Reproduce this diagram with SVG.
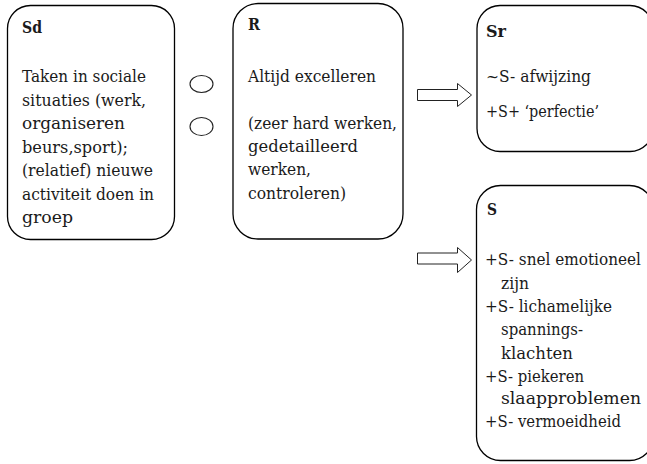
<svg xmlns="http://www.w3.org/2000/svg" width="647" height="464" viewBox="0 0 647 464">
  <style>
    .box { fill: #ffffff; stroke: #000000; stroke-width: 1.3; }
    .txt { font-family: "DejaVu Serif", "Liberation Serif", serif; font-size: 16px; fill: #1a1a1a; }
    .hd { font-weight: bold; }
    .arrow { fill: #ffffff; stroke: #222222; stroke-width: 1; }
    .ring { fill: #ffffff; stroke: #222222; stroke-width: 1.1; }
  </style>
  <rect width="647" height="464" fill="#ffffff"/>

  <!-- Stimulus (Sd) -->
  <g id="node-sd">
    <rect class="box" x="7.5" y="5.5" width="167" height="234" rx="23" ry="23"/>
    <text class="txt hd" x="22" y="33" textLength="20" lengthAdjust="spacingAndGlyphs">Sd</text>
    <text class="txt" x="22" y="82" textLength="124" lengthAdjust="spacingAndGlyphs">Taken in sociale</text>
    <text class="txt" x="22" y="105.5" textLength="124" lengthAdjust="spacingAndGlyphs">situaties (werk,</text>
    <text class="txt" x="22" y="129" textLength="103" lengthAdjust="spacingAndGlyphs">organiseren</text>
    <text class="txt" x="22" y="152.5" textLength="106" lengthAdjust="spacingAndGlyphs">beurs,sport);</text>
    <text class="txt" x="22" y="176" textLength="131" lengthAdjust="spacingAndGlyphs">(relatief) nieuwe</text>
    <text class="txt" x="22" y="199.5" textLength="132" lengthAdjust="spacingAndGlyphs">activiteit doen in</text>
    <text class="txt" x="22" y="223" textLength="51" lengthAdjust="spacingAndGlyphs">groep</text>
  </g>

  <!-- Organism placeholders -->
  <g id="node-o">
    <ellipse class="ring" cx="201.5" cy="84" rx="11.5" ry="8.5"/>
    <ellipse class="ring" cx="201.5" cy="126.5" rx="11.5" ry="9"/>
  </g>

  <!-- Response (R) -->
  <g id="node-r">
    <rect class="box" x="233" y="3.5" width="170" height="235.5" rx="25" ry="25"/>
    <text class="txt hd" x="248" y="30" textLength="12" lengthAdjust="spacingAndGlyphs">R</text>
    <text class="txt" x="248" y="82" textLength="128" lengthAdjust="spacingAndGlyphs">Altijd excelleren</text>
    <text class="txt" x="248" y="128.5" textLength="149" lengthAdjust="spacingAndGlyphs">(zeer hard werken,</text>
    <text class="txt" x="248" y="152" textLength="110" lengthAdjust="spacingAndGlyphs">gedetailleerd</text>
    <text class="txt" x="248" y="175" textLength="63" lengthAdjust="spacingAndGlyphs">werken,</text>
    <text class="txt" x="248" y="198.5" textLength="98" lengthAdjust="spacingAndGlyphs">controleren)</text>
  </g>

  <!-- Short-term consequences (Sr) -->
  <g id="node-sr">
    <rect class="box" x="477" y="5.5" width="176" height="146" rx="23" ry="23"/>
    <text class="txt hd" x="486" y="36.5" textLength="20" lengthAdjust="spacingAndGlyphs">Sr</text>
    <text class="txt" x="486" y="82" textLength="105" lengthAdjust="spacingAndGlyphs">~S-  afwijzing</text>
    <text class="txt" x="486" y="117" textLength="113" lengthAdjust="spacingAndGlyphs">+S+ ‘perfectie’</text>
  </g>

  <!-- Long-term consequences (S) -->
  <g id="node-s">
    <rect class="box" x="476.5" y="185.5" width="177" height="275" rx="24" ry="24"/>
    <text class="txt hd" x="487" y="215" textLength="10" lengthAdjust="spacingAndGlyphs">S</text>
    <text class="txt" x="485" y="265" textLength="156" lengthAdjust="spacingAndGlyphs">+S- snel emotioneel</text>
    <text class="txt" x="501" y="288.5" textLength="28" lengthAdjust="spacingAndGlyphs">zijn</text>
    <text class="txt" x="485" y="312" textLength="127" lengthAdjust="spacingAndGlyphs">+S- lichamelijke</text>
    <text class="txt" x="501" y="335" textLength="82" lengthAdjust="spacingAndGlyphs">spannings-</text>
    <text class="txt" x="501" y="358.5" textLength="72" lengthAdjust="spacingAndGlyphs">klachten</text>
    <text class="txt" x="485" y="382" textLength="99" lengthAdjust="spacingAndGlyphs">+S- piekeren</text>
    <text class="txt" x="501" y="403.5" textLength="140" lengthAdjust="spacingAndGlyphs">slaapproblemen</text>
    <text class="txt" x="485" y="426.5" textLength="136" lengthAdjust="spacingAndGlyphs">+S- vermoeidheid</text>
  </g>

  <!-- Block arrows -->
  <g id="connectors">
    <polygon class="arrow" points="417.5,89.5 457.5,89.5 457.5,83.5 471.5,95 457.5,106.5 457.5,100.5 417.5,100.5"/>
    <polygon class="arrow" points="417.5,253 457.5,253 457.5,247.5 471.5,260 457.5,272.5 457.5,264 417.5,264"/>
  </g>
</svg>
